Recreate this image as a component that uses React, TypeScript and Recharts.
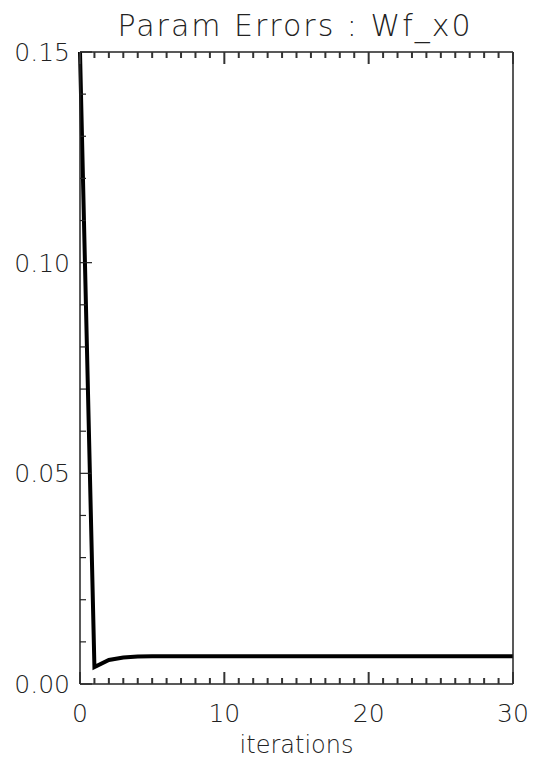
import React from "react";
import { LineChart, Line, XAxis, YAxis } from "recharts";

const iterations = [
  0, 1, 2, 3, 4, 5, 6, 7, 8, 9, 10, 11, 12, 13, 14, 15, 16, 17, 18, 19, 20,
  21, 22, 23, 24, 25, 26, 27, 28, 29, 30,
];

const paramErrors = [
  0.15, 0.004, 0.0057, 0.0063, 0.0065, 0.0066, 0.0066, 0.0066, 0.0066, 0.0066,
  0.0066, 0.0066, 0.0066, 0.0066, 0.0066, 0.0066, 0.0066, 0.0066, 0.0066,
  0.0066, 0.0066, 0.0066, 0.0066, 0.0066, 0.0066, 0.0066, 0.0066, 0.0066,
  0.0066, 0.0066, 0.0066,
];

const xTicks = iterations;
const yTicks = [
  0, 0.01, 0.02, 0.03, 0.04, 0.05, 0.06, 0.07, 0.08, 0.09, 0.1, 0.11, 0.12,
  0.13, 0.14, 0.15,
];

const data = iterations.map((it, i) => ({ it, err: paramErrors[i] }));

const FONT = "'DejaVu Sans', sans-serif";
const INK = "#222";
const MINOR = 6;
const MAJOR = 12;

const isMajorX = (v: number) => v % 10 === 0;
const isMajorY = (v: number) => Math.round(v * 100) % 5 === 0;

// tick renderers: recharts hands us the axis-line position (tickSize/tickMargin = 0)
const BottomTick = (props: any) => {
  const { x, y, payload } = props;
  const major = isMajorX(payload.value);
  return (
    <g>
      <path d={`M${x},${y}V${y - (major ? MAJOR : MINOR)}`} stroke="#333" strokeWidth={2} />
      {major && (
        <text x={x} y={y + 38} textAnchor="middle" fontSize={25} fontFamily={FONT} fontWeight={200} fill={INK}>
          {payload.value}
        </text>
      )}
    </g>
  );
};

const TopTick = (props: any) => {
  const { x, y, payload } = props;
  const major = isMajorX(payload.value);
  return <path d={`M${x},${y}V${y + (major ? MAJOR : MINOR)}`} stroke="#333" strokeWidth={2} />;
};

const LeftTick = (props: any) => {
  const { x, y, payload } = props;
  const major = isMajorY(payload.value);
  return (
    <g>
      <path d={`M${x},${y}H${x + (major ? MAJOR : MINOR)}`} stroke={INK} strokeWidth={1.2} />
      {major && (
        <text x={x - 10} y={y + 9} textAnchor="end" fontSize={25} fontFamily={FONT} fontWeight={200} fill={INK}>
          {payload.value.toFixed(2)}
        </text>
      )}
    </g>
  );
};

const RightTick = (props: any) => {
  const { x, y, payload } = props;
  const major = isMajorY(payload.value);
  return <path d={`M${x},${y}H${x - (major ? MAJOR : MINOR)}`} stroke={INK} strokeWidth={1.2} />;
};

export default function App() {
  return (
    <div style={{ position: "absolute", left: 0, top: 0, width: 536, height: 764, background: "#fff" }}>
      <div
        style={{
          position: "absolute",
          left: 0,
          width: 590,
          top: 8,
          textAlign: "center",
          fontFamily: FONT,
          fontWeight: 200,
          fontSize: 30,
          letterSpacing: 2,
          color: INK,
          lineHeight: "36px",
        }}
      >
        Param Errors : Wf_x0
      </div>
      <LineChart width={536} height={764} data={data} margin={{ top: 42, right: 13, bottom: 50, left: 70 }}>
        <XAxis
          xAxisId="bottom"
          dataKey="it"
          type="number"
          domain={[0, 30]}
          ticks={xTicks}
          interval={0}
          orientation="bottom"
          height={30}
          tickSize={0}
          tickMargin={0}
          tickLine={false}
          tick={<BottomTick />}
          axisLine={{ stroke: INK, strokeWidth: 1.5 }}
          label={{ value: "iterations", position: "bottom", offset: 22, fontSize: 24, fontFamily: FONT, fontWeight: 200, fill: INK }}
        />
        <XAxis
          xAxisId="top"
          dataKey="it"
          type="number"
          domain={[0, 30]}
          ticks={xTicks}
          interval={0}
          orientation="top"
          height={10}
          tickSize={0}
          tickMargin={0}
          tickLine={false}
          tick={<TopTick />}
          axisLine={{ stroke: INK, strokeWidth: 1.5 }}
        />
        <YAxis
          yAxisId="left"
          type="number"
          domain={[0, 0.15]}
          ticks={yTicks}
          interval={0}
          orientation="left"
          width={10}
          tickSize={0}
          tickMargin={0}
          tickLine={false}
          tick={<LeftTick />}
          axisLine={{ stroke: INK, strokeWidth: 1.5 }}
        />
        <YAxis
          yAxisId="right"
          type="number"
          domain={[0, 0.15]}
          ticks={yTicks}
          interval={0}
          orientation="right"
          width={10}
          tickSize={0}
          tickMargin={0}
          tickLine={false}
          tick={<RightTick />}
          axisLine={{ stroke: INK, strokeWidth: 1.5 }}
        />
        <Line
          xAxisId="bottom"
          yAxisId="left"
          type="linear"
          dataKey="err"
          stroke="#000"
          strokeWidth={4}
          dot={false}
          isAnimationActive={false}
        />
      </LineChart>
    </div>
  );
}
